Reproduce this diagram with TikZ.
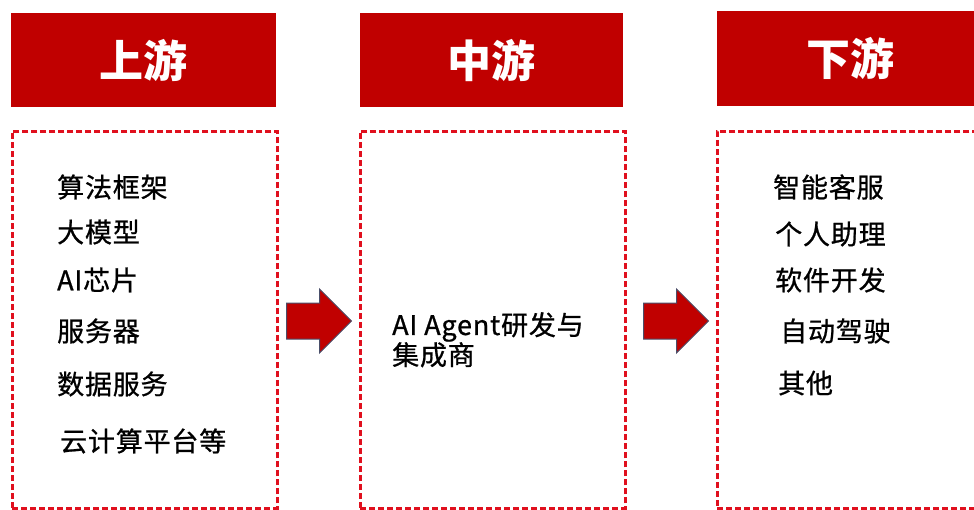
\documentclass[tikz,border=0pt]{standalone}
\usepackage{fontspec}
\setmainfont{Noto Sans CJK SC}
\newfontfamily\cjk{Noto Sans CJK SC}
\newfontfamily\cjkbody{Noto Sans CJK SC}[FakeBold=0.8, LetterSpace=3]
\usetikzlibrary{shapes.arrows}
\definecolor{hdrred}{HTML}{C00000}
\definecolor{dashred}{HTML}{E0101E}
\definecolor{arrowedge}{HTML}{4A4F6A}
\tikzset{
  header/.style={fill=hdrred, draw=none, anchor=north west, inner sep=0pt,
    text=white, font=\cjk\bfseries\fontsize{44}{48}\selectfont},
  panel/.style={draw=dashred, line width=2.6pt, dash pattern=on 6pt off 3pt, anchor=north west, inner sep=0pt},
  item/.style={anchor=west, inner sep=0pt, font=\cjkbody\fontsize{27}{32}\selectfont},
  flow/.style={single arrow, fill=hdrred, draw=arrowedge, line width=1pt,
    single arrow head extend=14pt, single arrow tip angle=90, minimum height=65pt,
    inner xsep=0pt, inner ysep=17.5pt, anchor=west}
}
\begin{document}
\begin{tikzpicture}[x=1pt,y=-1pt]
\useasboundingbox (0,0) rectangle (974,509);
% headers
\node[header, minimum width=265pt, minimum height=94pt] (h1) at (11,13) {上游};
\node[header, minimum width=263pt, minimum height=94pt] (h2) at (360,13) {中游};
\node[header, minimum width=266pt, minimum height=95pt] (h3) at (717,11) {下游};
% panels
\node[panel, minimum width=265pt, minimum height=377pt] (p1) at (11,130) {};
\node[panel, minimum width=265pt, minimum height=377pt] (p2) at (359,130) {};
\node[panel, minimum width=266pt, minimum height=377pt] (p3) at (716,130) {};
% arrows
\node[flow] (a1) at (286,321) {};
\node[flow] (a2) at (643,321) {};
% upstream items
\node[item] (u1) at (57,187) {算法框架};
\node[item] (u2) at (57,232) {大模型};
\node[item] (u3) at (57,280) {AI芯片};
\node[item] (u4) at (57,331) {服务器};
\node[item] (u5) at (57,384) {数据服务};
\node[item] (u6) at (60,441) {云计算平台等};
% midstream
\node[item, align=left, font=\cjkbody\fontsize{27}{30}\selectfont, anchor=north west] (m1) at (392,312) {AI Agent研发与\\集成商};
% downstream
\node[item] (d1) at (773,187) {智能客服};
\node[item] (d2) at (775,234) {个人助理};
\node[item] (d3) at (775,280) {软件开发};
\node[item] (d4) at (780,331) {自动驾驶};
\node[item] (d5) at (778,383) {其他};
\end{tikzpicture}
\end{document}
